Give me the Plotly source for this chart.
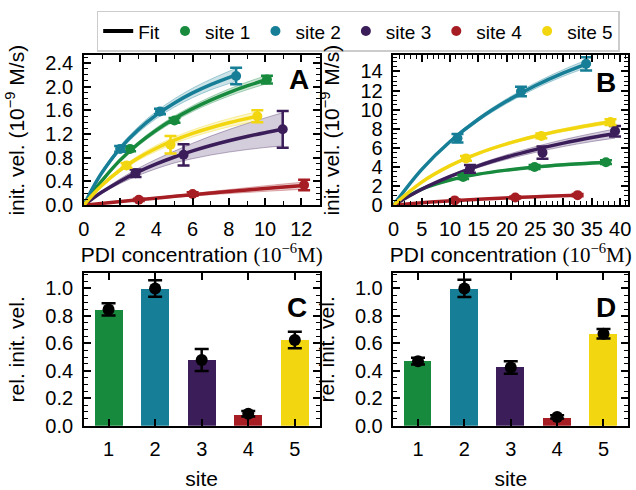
import plotly.graph_objects as go

# ---------------- data ----------------
site_names = ["site 1", "site 2", "site 3", "site 4", "site 5"]
site_colors = ["#178a3e", "#167f97", "#3b1d5a", "#a61e23", "#f2d60f"]

# Panel A (low concentration range)
A_pts_x = [[2.55, 5.0, 10.1], [2.0, 4.2, 8.4], [2.85, 5.5, 10.97], [3.03, 6.0, 12.15], [2.35, 4.78, 9.57]]
A_pts_y = [[0.95, 1.43, 2.12], [0.95, 1.58, 2.18], [0.54, 0.85, 1.28], [0.09, 0.19, 0.34], [0.67, 1.02, 1.50]]
A_pts_e = [[0.04, 0.04, 0.065], [0.05, 0.045, 0.14], [0.064, 0.18, 0.31], [0.02, 0.03, 0.09], [0.04, 0.147, 0.10]]

A_fit_x = [
    [0, 0.5, 1, 2, 3, 4, 5, 6, 7, 8, 9, 10.1],
    [0, 0.5, 1, 2, 3, 4, 5, 6, 7, 8.4],
    [0, 0.5, 1, 2, 3, 4, 5, 6, 7, 8, 9, 10, 10.97],
    [0, 1.5, 3, 4.5, 6, 7.5, 9, 10.5, 12.15],
    [0, 0.5, 1, 2, 3, 4, 5, 6, 7, 8, 9.57],
]
A_fit_y = [
    [0, 0.224, 0.416, 0.76, 1.036, 1.267, 1.462, 1.629, 1.773, 1.90, 2.012, 2.12],
    [0, 0.298, 0.552, 0.96, 1.274, 1.523, 1.726, 1.894, 2.035, 2.20],
    [0, 0.116, 0.221, 0.405, 0.562, 0.696, 0.813, 0.915, 1.006, 1.086, 1.158, 1.223, 1.28],
    [0, 0.047, 0.092, 0.135, 0.177, 0.217, 0.255, 0.292, 0.33],
    [0, 0.18, 0.337, 0.594, 0.796, 0.96, 1.096, 1.21, 1.306, 1.39, 1.50],
]
A_fit_band = [
    [0, 0.01, 0.02, 0.03, 0.035, 0.04, 0.045, 0.05, 0.055, 0.06, 0.065, 0.07],
    [0, 0.02, 0.03, 0.04, 0.05, 0.06, 0.07, 0.08, 0.09, 0.11],
    [0, 0.01, 0.02, 0.04, 0.06, 0.08, 0.10, 0.13, 0.16, 0.19, 0.22, 0.25, 0.28],
    [0, 0.005, 0.01, 0.015, 0.02, 0.03, 0.04, 0.05, 0.06],
    [0, 0.01, 0.02, 0.03, 0.04, 0.05, 0.055, 0.06, 0.065, 0.07, 0.08],
]

# Panel B (high concentration range)
B_pts_x = [[12.3, 24.9, 37.5], [11.3, 22.5, 34.0], [13.5, 26.3, 39.1], [10.8, 21.5, 32.5], [12.8, 26.1, 38.3]]
B_pts_y = [[2.95, 4.0, 4.5], [7.0, 11.9, 14.8], [3.8, 5.5, 7.75], [0.5, 0.8, 1.05], [4.9, 7.25, 8.7]]
B_pts_e = [[0.2, 0.2, 0.2], [0.45, 0.5, 0.7], [0.4, 0.65, 0.55], [0.1, 0.1, 0.12], [0.25, 0.25, 0.3]]

B_fit_x = [
    [0, 5, 10, 15, 20, 25, 30, 37.5],
    [0, 5, 10, 15, 20, 25, 30, 34],
    [0, 5, 10, 15, 20, 25, 30, 35, 39.1],
    [0, 5, 10.8, 15, 21.5, 27, 32.5],
    [0, 5, 10, 15, 20, 25, 30, 35, 38.3],
]
B_fit_y = [
    [0, 1.69, 2.64, 3.25, 3.67, 3.99, 4.23, 4.5],
    [0, 3.75, 6.67, 9.0, 10.9, 12.5, 13.85, 14.78],
    [0, 1.67, 3.01, 4.12, 5.04, 5.82, 6.5, 7.08, 7.5],
    [0, 0.26, 0.5, 0.62, 0.8, 0.93, 1.05],
    [0, 2.42, 4.14, 5.43, 6.42, 7.21, 7.86, 8.4, 8.7],
]
B_fit_band = [
    [0, 0.05, 0.07, 0.08, 0.09, 0.10, 0.11, 0.12],
    [0, 0.10, 0.15, 0.20, 0.25, 0.30, 0.35, 0.40],
    [0, 0.08, 0.12, 0.18, 0.24, 0.30, 0.36, 0.42, 0.48],
    [0, 0.02, 0.03, 0.035, 0.04, 0.045, 0.05],
    [0, 0.05, 0.08, 0.10, 0.12, 0.14, 0.16, 0.18, 0.20],
]

# Panels C, D (relative initial velocities)
sites = [1, 2, 3, 4, 5]
C_bar = [0.842, 1.0, 0.478, 0.082, 0.624]
C_pt = [0.847, 1.0, 0.478, 0.087, 0.624]
C_err = [0.045, 0.06, 0.08, 0.02, 0.06]
D_bar = [0.47, 1.0, 0.428, 0.059, 0.666]
D_pt = [0.47, 1.0, 0.424, 0.064, 0.67]
D_err = [0.025, 0.063, 0.045, 0.012, 0.035]

# ---------------- figure ----------------
W, H = 636, 490
FONT = "Liberation Sans"


def rgba(hexc, a):
    h = hexc.lstrip("#")
    r, g, b = int(h[0:2], 16), int(h[2:4], 16), int(h[4:6], 16)
    return f"rgba({r},{g},{b},{a})"


fig = go.Figure()

# legend "Fit" entry
fig.add_trace(go.Scatter(x=[None], y=[None], mode="lines", name="Fit",
                         line=dict(color="black", width=4), legendrank=1,
                         xaxis="x", yaxis="y"))


def add_curve_panel(fx, fy, fb, px, py, pe, xa, ya, legend):
    for i in range(5):
        c = site_colors[i]
        lo = [a - b for a, b in zip(fy[i], fb[i])]
        hi = [a + b for a, b in zip(fy[i], fb[i])]
        fig.add_trace(go.Scatter(x=fx[i], y=lo, mode="lines", line=dict(color=rgba(c, 0.35), width=1, shape="spline"),
                                 showlegend=False, hoverinfo="skip", xaxis=xa, yaxis=ya))
        fig.add_trace(go.Scatter(x=fx[i], y=hi, mode="lines", line=dict(color=rgba(c, 0.35), width=1, shape="spline"),
                                 fill="tonexty", fillcolor=rgba(c, 0.22),
                                 showlegend=False, hoverinfo="skip", xaxis=xa, yaxis=ya))
    for i in range(5):
        c = site_colors[i]
        fig.add_trace(go.Scatter(x=fx[i], y=fy[i], mode="lines", line=dict(color=c, width=3.5, shape="spline"),
                                 showlegend=False, xaxis=xa, yaxis=ya))
    for i in range(5):
        c = site_colors[i]
        fig.add_trace(go.Scatter(x=px[i], y=py[i], mode="markers", name=site_names[i],
                                 marker=dict(color=c, size=10),
                                 error_y=dict(type="data", array=pe[i], color=c, thickness=2.5, width=6),
                                 showlegend=legend, legendrank=2 + i, xaxis=xa, yaxis=ya))


add_curve_panel(A_fit_x, A_fit_y, A_fit_band, A_pts_x, A_pts_y, A_pts_e, "x", "y", True)
add_curve_panel(B_fit_x, B_fit_y, B_fit_band, B_pts_x, B_pts_y, B_pts_e, "x2", "y2", False)

for bars, pts, errs, xa, ya in [(C_bar, C_pt, C_err, "x3", "y3"), (D_bar, D_pt, D_err, "x4", "y4")]:
    fig.add_trace(go.Bar(x=sites, y=bars, width=0.6, marker=dict(color=site_colors, line=dict(width=0)),
                         showlegend=False, xaxis=xa, yaxis=ya))
    fig.add_trace(go.Scatter(x=sites, y=pts, mode="markers", marker=dict(color="black", size=12),
                             error_y=dict(type="data", array=errs, color="black", thickness=2.5, width=7),
                             showlegend=False, xaxis=xa, yaxis=ya))


def ax(domain, rng, dtick, minor_dtick, anchor, title=None, fmt=None, minor=True, standoff=None):
    d = dict(domain=domain, range=rng, dtick=dtick, tick0=0, anchor=anchor,
             showline=True, linecolor="black", linewidth=1.5, mirror="allticks",
             ticks="inside", ticklen=7, tickwidth=1.5, tickcolor="black",
             showgrid=False, zeroline=False, ticklabelstandoff=5, ticklabeloverflow="allow",
             tickfont=dict(family=FONT, size=20, color="black"))
    if minor:
        d["minor"] = dict(dtick=minor_dtick, tick0=0, ticks="inside", ticklen=4, tickwidth=1, tickcolor="black")
    if fmt:
        d["tickformat"] = fmt
    if title:
        d["title"] = dict(text=title, font=dict(family=FONT, size=21, color="black"))
        if standoff is not None:
            d["title"]["standoff"] = standoff
    return d


xl, xr = 79 / W, 318 / W
x2l, x2r = 393 / W, 631 / W
ytop_b, ytop_t = 1 - 209 / H, 1 - 54 / H
ybot_b, ybot_t = 1 - 437 / H, 1 - 279 / H

xtitle = 'PDI concentration <span style="font-family:Liberation Serif">(10<sup>\u22126</sup>M)</span>'
ytitle = "init. vel. (10<sup>\u22129</sup> M/s)"

fig.update_layout(
    width=W, height=H, margin=dict(l=0, r=0, t=0, b=0),
    paper_bgcolor="white", plot_bgcolor="white",
    font=dict(family=FONT, color="black"),
    xaxis=ax([xl, xr], [0, 13], 2, 1, "y", xtitle, standoff=6),
    yaxis=ax([ytop_b, ytop_t], [0, 2.53], 0.4, 0.1, "x", ytitle, ".1f"),
    xaxis2=ax([x2l, x2r], [0, 41.4], 5, 1, "y2", xtitle, standoff=6),
    yaxis2=ax([ytop_b, ytop_t], [0, 15.7], 2, 0.5, "x2", ytitle),
    xaxis3=ax([xl, xr], [0.47, 5.53], 1, None, "y3", "site", minor=False),
    yaxis3=ax([ybot_b, ybot_t], [0, 1.113], 0.2, 0.05, "x3", "rel. init. vel.", ".1f"),
    xaxis4=ax([x2l, x2r], [0.47, 5.53], 1, None, "y4", "site", minor=False),
    yaxis4=ax([ybot_b, ybot_t], [0, 1.113], 0.2, 0.05, "x4", "rel. init. vel.", ".1f"),
    legend=dict(orientation="h", x=92 / W, y=1 - 8 / H, xanchor="left", yanchor="top",
                bgcolor="white", bordercolor="#cccccc", borderwidth=1.5,
                font=dict(family=FONT, size=19, color="black"), traceorder="normal"),
    bargap=0,
)

letters = [("A", "x", "y", 0.911, 0.839), ("B", "x2", "y2", 0.908, 0.82),
           ("C", "x3", "y3", 0.904, 0.772), ("D", "x4", "y4", 0.905, 0.772)]
for t, xa, ya, xx, yy in letters:
    fig.add_annotation(text=f"<b>{t}</b>", x=xx, y=yy, xref=f"{xa} domain", yref=f"{ya} domain",
                       showarrow=False, font=dict(family=FONT, size=28, color="black"),
                       xanchor="center", yanchor="middle")

fig.write_html("out.html", config={"displayModeBar": False},
               post_script="document.body.style.margin='0';document.body.style.overflow='hidden';")
